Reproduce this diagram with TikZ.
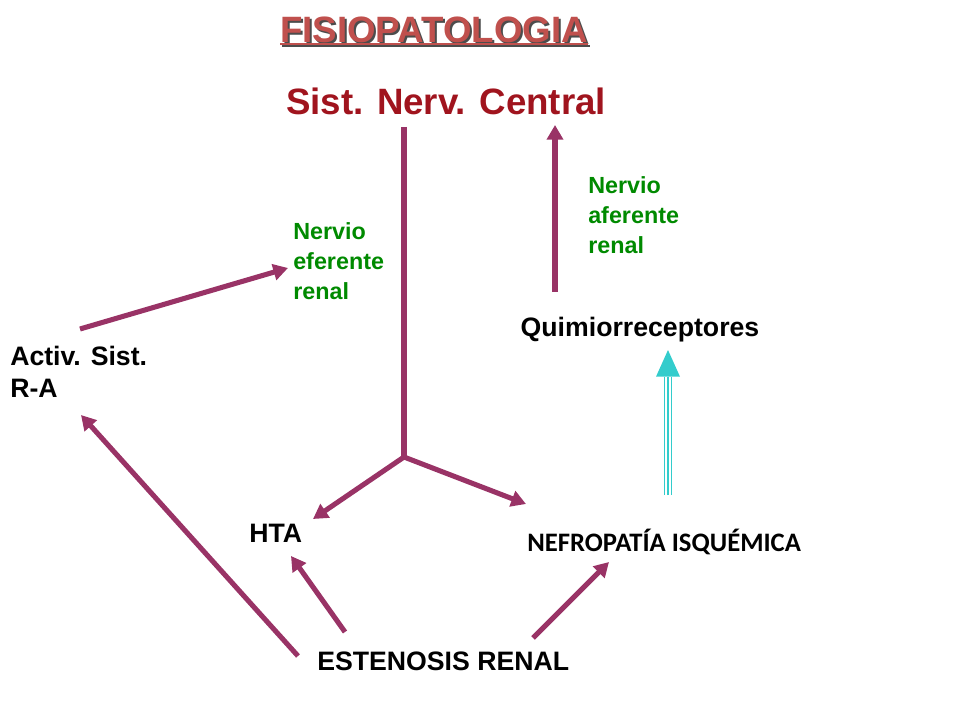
\documentclass[tikz,border=0pt]{standalone}
\usepackage{fontspec}
\setmainfont{Liberation Sans}
\newfontfamily\calib{Carlito}
\begin{document}
\begin{tikzpicture}[x=0.75pt,y=-0.75pt,
  arr/.style={draw=arrc,line width=3.8pt,-{Triangle[length=11pt,width=12pt]}},
  ln/.style={draw=arrc,line width=3.8pt},
  lbl/.style={font=\bfseries\fontsize{20}{22}\selectfont,anchor=west,inner sep=0pt},
  grn/.style={font=\bfseries\fontsize{17.5}{22.5}\selectfont,text=nerv,align=left,anchor=north west,inner sep=0pt}]
\usetikzlibrary{arrows.meta}
\definecolor{arrc}{HTML}{993366}
\definecolor{nerv}{HTML}{008A00}
\definecolor{titc}{HTML}{C0504D}
\definecolor{snc}{HTML}{A0141E}
\definecolor{cy}{HTML}{33CCCC}
\useasboundingbox (0,0) rectangle (960,720);
\node[font=\bfseries\fontsize{27.5}{30}\selectfont,text=black!70] at (436,32) {FISIOPATOLOGIA};
\node[font=\bfseries\fontsize{27.5}{30}\selectfont,text=titc] (tit) at (434,30) {FISIOPATOLOGIA};
\draw[black!70,line width=1.5pt] (282,46) -- (590,46);
\draw[titc,line width=1.5pt] (280,44) -- (588,44);
\node[font=\bfseries\fontsize{27.5}{30}\selectfont,text=snc] (snc) at (446,101) {Sist. Nerv. Central};
\node[grn] (ef) at (293,222) {Nervio\\eferente\\renal};
\node[grn] (af) at (588,176) {Nervio\\aferente\\renal};
\node[lbl,anchor=center] (qr) at (640,330) {Quimiorreceptores};
\node[lbl,align=left,anchor=north west,font=\bfseries\fontsize{20}{24}\selectfont] (ra) at (10,346) {Activ. Sist.\\R-A};
\node[lbl] (hta) at (249,533) {HTA};
\node[lbl,font=\calib\bfseries\fontsize{20}{22}\selectfont] (nef) at (527,542) {NEFROPATÍA ISQUÉMICA};
\node[lbl] (est) at (317,661) {ESTENOSIS RENAL};
\coordinate (top) at (404,127);
\coordinate (fork) at (404,457);
\coordinate (htaE) at (313,519);
\coordinate (nefE) at (526,504);
\coordinate (afS) at (555,292);
\coordinate (afE) at (555,125);
\coordinate (raS) at (80,329);
\coordinate (raE) at (288,268);
\coordinate (e1) at (298,656);
\coordinate (e1E) at (81,415);
\coordinate (e2) at (345,632);
\coordinate (e2E) at (291,556);
\coordinate (e3) at (533,638);
\coordinate (e3E) at (609,562);
\coordinate (cS) at (668,495);
\coordinate (cE) at (668,350);
\draw[ln] (top) -- (fork);
\draw[arr] (fork) -- (htaE);
\draw[arr] (fork) -- (nefE);
\draw[arr] (afS) -- (afE);
\draw[arr] (raS) -- (raE);
\draw[arr] (e1) -- (e1E);
\draw[arr] (e2) -- (e2E);
\draw[arr] (e3) -- (e3E);
\draw[cy,line width=0.9pt] ([xshift=-2.5]cS) -- ([xshift=-2.5,yshift=-20]cE);
\draw[cy,line width=0.9pt] (cS) -- ([yshift=-20]cE);
\draw[cy,line width=0.9pt] ([xshift=2.5]cS) -- ([xshift=2.5,yshift=-20]cE);
\fill[cy] (cE) -- ([xshift=-9,yshift=-20]cE) -- ([xshift=9,yshift=-20]cE) -- cycle;
\end{tikzpicture}
\end{document}
